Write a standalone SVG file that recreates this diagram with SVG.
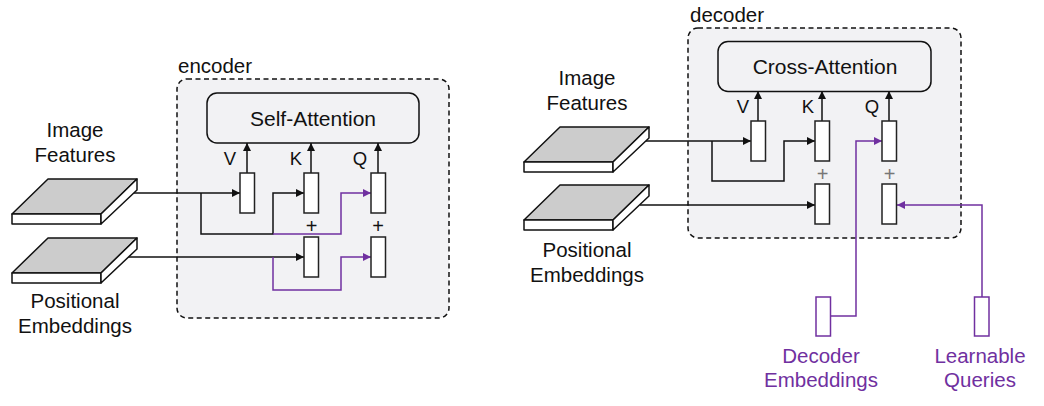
<svg xmlns="http://www.w3.org/2000/svg" width="1044" height="406" viewBox="0 0 1044 406">
<defs>
<style>
.t{font-family:"Liberation Sans",Arial,sans-serif;font-size:20.5px;fill:#111;text-anchor:middle}
.tl{font-family:"Liberation Sans",Arial,sans-serif;font-size:20.5px;fill:#111}
.tt{font-family:"Liberation Sans",Arial,sans-serif;font-size:21px;fill:#111;text-anchor:middle}
.qkv{font-family:"Liberation Sans",Arial,sans-serif;font-size:18.5px;fill:#111;text-anchor:middle}
.plus{font-family:"Liberation Sans",Arial,sans-serif;font-size:20px;fill:#111;text-anchor:middle}
.pl{fill:#7030a0}
.cont{fill:#f2f2f4;stroke:#111;stroke-width:1.5;stroke-dasharray:5 3.5}
.att{fill:#f2f2f4;stroke:#111;stroke-width:1.5}
.tok{fill:#fff;stroke:#222;stroke-width:1.5}
.ptok{fill:#fff;stroke:#7030a0;stroke-width:1.5}
.top{fill:#cccccc;stroke:#111;stroke-width:1.5;stroke-linejoin:round}
.face{fill:#fff;stroke:#111;stroke-width:1.5;stroke-linejoin:round}
.ln{fill:none;stroke:#111;stroke-width:1.5}
.pln{fill:none;stroke:#7030a0;stroke-width:1.5}
</style>
<marker id="ah" viewBox="0 0 8 8" refX="8" refY="4" markerWidth="8" markerHeight="8" markerUnits="userSpaceOnUse" orient="auto"><path d="M0,0 L8,4 L0,8 z" fill="#111"/></marker>
<marker id="ahp" viewBox="0 0 8 8" refX="8" refY="4" markerWidth="8" markerHeight="8" markerUnits="userSpaceOnUse" orient="auto"><path d="M0,0 L8,4 L0,8 z" fill="#7030a0"/></marker>
<g id="slab">
<polygon class="top" points="0,35 36,0 125,0 89,35"/>
<rect class="face" x="0" y="35" width="89" height="10"/>
<polygon class="face" points="89,35 125,0 125,11 89,45"/>
</g>
</defs>

<g id="encoder">
<rect class="cont" x="177" y="79" width="272" height="239" rx="10"/>
<text class="tl" x="178" y="73">encoder</text>
</g>
<g id="decoder">
<rect class="cont" x="688" y="28" width="273" height="210" rx="10"/>
<text class="tl" x="690" y="22">decoder</text>
</g>

<g id="connectors">
<path class="ln" d="M247,173 V143" marker-end="url(#ah)"/>
<path class="ln" d="M311,173 V143" marker-end="url(#ah)"/>
<path class="ln" d="M378,173 V143" marker-end="url(#ah)"/>
<path class="ln" d="M132,193 H240" marker-end="url(#ah)"/>
<path class="ln" d="M201,193 V234 H273 V193 H304" marker-end="url(#ah)"/>
<path class="pln" d="M273,234 H341 V193 H371" marker-end="url(#ahp)"/>
<path class="ln" d="M128,257 H304" marker-end="url(#ah)"/>
<path class="pln" d="M273,257 V290 H341 V257 H371" marker-end="url(#ahp)"/>

<path class="ln" d="M758,121 V91" marker-end="url(#ah)"/>
<path class="ln" d="M822,121 V91" marker-end="url(#ah)"/>
<path class="ln" d="M889,121 V91" marker-end="url(#ah)"/>
<path class="ln" d="M644,141 H751" marker-end="url(#ah)"/>
<path class="ln" d="M712,141 V181 H784 V141 H815" marker-end="url(#ah)"/>
<path class="ln" d="M640,205 H815" marker-end="url(#ah)"/>
<path class="pln" d="M830,316 H856 V141 H882" marker-end="url(#ahp)"/>
<path class="pln" d="M982,297 V205 H897" marker-end="url(#ahp)"/>
</g>

<g id="enc-image-features">
<use href="#slab" x="12" y="179"/>
<text class="t" x="75" y="137">Image</text>
<text class="t" x="75" y="162">Features</text>
</g>
<g id="enc-positional-embeddings">
<use href="#slab" x="12" y="238"/>
<text class="t" x="75" y="308">Positional</text>
<text class="t" x="75" y="333">Embeddings</text>
</g>
<g id="self-attention">
<rect class="att" x="207" y="93" width="212" height="50" rx="10"/>
<text class="tt" x="313" y="126">Self-Attention</text>
</g>
<g id="enc-v">
<rect class="tok" x="240" y="173" width="14.5" height="40"/>
<text class="qkv" x="230" y="165">V</text>
</g>
<g id="enc-k">
<rect class="tok" x="304" y="173" width="14.5" height="40"/>
<text class="qkv" x="296" y="165">K</text>
</g>
<g id="enc-q">
<rect class="tok" x="371" y="173" width="14.5" height="40"/>
<text class="qkv" x="360" y="165">Q</text>
</g>
<g id="enc-k-pos">
<rect class="tok" x="304" y="237" width="14.5" height="40"/>
<text class="plus" x="311.5" y="232.5">+</text>
</g>
<g id="enc-q-pos">
<rect class="tok" x="371" y="237" width="14.5" height="40"/>
<text class="plus" x="378" y="232.5">+</text>
</g>

<g id="dec-image-features">
<use href="#slab" x="524" y="127"/>
<text class="t" x="587" y="85">Image</text>
<text class="t" x="587" y="110">Features</text>
</g>
<g id="dec-positional-embeddings">
<use href="#slab" x="524" y="185"/>
<text class="t" x="587" y="257">Positional</text>
<text class="t" x="587" y="282">Embeddings</text>
</g>
<g id="cross-attention">
<rect class="att" x="718" y="41.5" width="213" height="50" rx="10"/>
<text class="tt" x="825" y="74">Cross-Attention</text>
</g>
<g id="dec-v">
<rect class="tok" x="751" y="121" width="14.5" height="40"/>
<text class="qkv" x="743" y="113">V</text>
</g>
<g id="dec-k">
<rect class="tok" x="815" y="121" width="14.5" height="40"/>
<text class="qkv" x="808" y="113">K</text>
</g>
<g id="dec-q">
<rect class="tok" x="882" y="121" width="14.5" height="40"/>
<text class="qkv" x="872" y="113">Q</text>
</g>
<g id="dec-k-pos">
<rect class="tok" x="815" y="184" width="14.5" height="40"/>
<text class="plus" x="822.5" y="180.5" style="fill:#777">+</text>
</g>
<g id="dec-q-pos">
<rect class="tok" x="882" y="184" width="14.5" height="40"/>
<text class="plus" x="889.5" y="180.5" style="fill:#777">+</text>
</g>
<g id="decoder-embeddings">
<rect class="ptok" x="816" y="297" width="14.5" height="39"/>
<text class="t pl" x="821" y="363">Decoder</text>
<text class="t pl" x="821" y="387">Embeddings</text>
</g>
<g id="learnable-queries">
<rect class="ptok" x="974.5" y="297" width="14.5" height="39"/>
<text class="t pl" x="980" y="363">Learnable</text>
<text class="t pl" x="980" y="387">Queries</text>
</g>
</svg>
